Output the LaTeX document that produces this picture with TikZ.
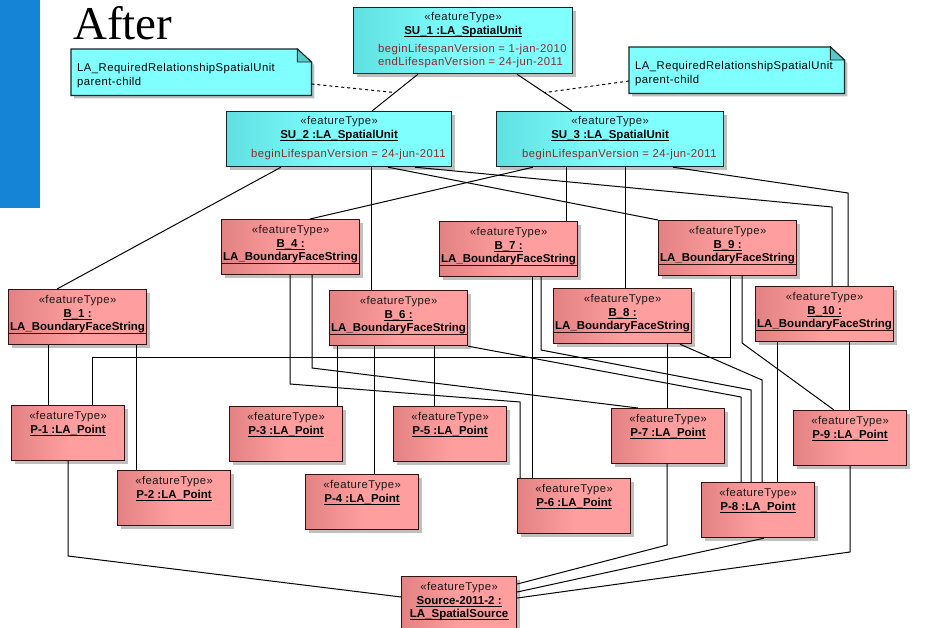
\documentclass[tikz,border=0pt]{standalone}
\usepackage{fontspec}
\setmainfont{Liberation Sans}
\newfontfamily\regf[LetterSpace=4]{Liberation Sans}
\newfontfamily\lsans{Liberation Sans}
\newfontfamily\serifbig{Liberation Serif}
\usetikzlibrary{shadows}

\definecolor{barBlue}{RGB}{21,132,214}
\definecolor{pinkD}{RGB}{226,130,130}
\definecolor{pinkL}{RGB}{255,158,158}
\definecolor{pinkEdge}{RGB}{50,18,18}
\definecolor{cyanD}{RGB}{96,224,224}
\definecolor{cyanL}{RGB}{128,255,255}
\definecolor{cyanEdge}{RGB}{20,40,40}
\definecolor{foldCyan}{RGB}{88,200,200}
\definecolor{attrRed}{RGB}{140,44,44}

\tikzset{
  link/.style={draw=black, line width=1pt},
  notelink/.style={draw=black, line width=1pt, dash pattern=on 3pt off 3pt},
  boxbase/.style={rectangle, anchor=north west, inner sep=0pt, line width=1.2pt,
    drop shadow={shadow xshift=3pt, shadow yshift=-3pt, fill=black!45, opacity=0.55}},
  pinkbox/.style={boxbase, draw=pinkEdge, left color=pinkD, right color=pinkL, middle color=pinkL},
  cyanbox/.style={boxbase, draw=cyanEdge, left color=cyanD, right color=cyanL, middle color=cyanL},
  stereo/.style={font=\regf\fontsize{11.3}{13}\selectfont, anchor=base, inner sep=0pt, text=black!90},
  idtext/.style={font=\lsans\bfseries\fontsize{11.5}{13}\selectfont, anchor=base, inner sep=0pt},
  attr/.style={font=\regf\fontsize{11.3}{13}\selectfont, anchor=base west, inner sep=0pt, text=attrRed},
  notetxt/.style={font=\regf\fontsize{11.3}{13}\selectfont, anchor=base west, inner sep=0pt},
  uline/.style={draw=black, line width=1pt},
  cline/.style={draw=pinkEdge, line width=1.1pt},
  notebody/.style={draw=cyanEdge, line width=1.2pt, fill=cyanL},
  notefold/.style={draw=cyanEdge, line width=0.9pt, fill=foldCyan},
  noteshadow/.style={fill=black!45, opacity=0.55},
  titletext/.style={font=\serifbig\fontsize{47}{47}\selectfont, anchor=base west, inner sep=0pt},
}

% underline below a text node
\newcommand\undernode[1]{\draw[uline] ([yshift=-2pt]#1.base west) -- ([yshift=-2pt]#1.base east);}

% UML note with folded corner: name, x, y, width
\newcommand\notebox[4]{%
  \node[rectangle, anchor=north west, inner sep=0pt, minimum width=#4pt, minimum height=46pt] (#1) at (#2,#3) {};
  \fill[noteshadow] ([xshift=3pt,yshift=-3pt]#1.north west) -- ([xshift=-11pt,yshift=-3pt]#1.north east)
    -- ([xshift=3pt,yshift=-16pt]#1.north east) -- ([xshift=3pt,yshift=-3pt]#1.south east)
    -- ([xshift=3pt,yshift=-3pt]#1.south west) -- cycle;
  \draw[notebody] (#1.north west) -- ([xshift=-14pt]#1.north east) -- ([yshift=-13pt]#1.north east)
    -- (#1.south east) -- (#1.south west) -- cycle;
  \filldraw[notefold] ([xshift=-14pt]#1.north east) -- ([yshift=-13pt]#1.north east)
    -- ([xshift=-14pt,yshift=-13pt]#1.north east) -- cycle;
  \node[notetxt] (#1-a) at ([shift={(6pt,-22.5pt)}]#1.north west) {LA\_RequiredRelationshipSpatialUnit};
  \node[notetxt] (#1-b) at ([shift={(6pt,-36.5pt)}]#1.north west) {parent-child};
}

% boundary face string object: name, x, y, id
\newcommand\bfsbox[4]{%
  \node[pinkbox, minimum width=138pt, minimum height=55pt] (#1) at (#2,#3) {};
  \node[stereo] (#1-s) at ([yshift=-14pt]#1.north) {«featureType»};
  \node[idtext] (#1-n) at ([yshift=-28.5pt]#1.north) {#4 :};
  \undernode{#1-n}
  \node[idtext] (#1-c) at ([yshift=-41pt]#1.north) {LA\_BoundaryFaceString};
  \draw[cline] ([yshift=-44.5pt]#1.north west) -- ([yshift=-44.5pt]#1.north east);
}

% point object: name, x, y, id
\newcommand\ptbox[4]{%
  \node[pinkbox, minimum width=113pt, minimum height=55pt] (#1) at (#2,#3) {};
  \node[stereo] (#1-s) at ([yshift=-14pt]#1.north) {«featureType»};
  \node[idtext] (#1-n) at ([yshift=-28pt]#1.north) {#4 :LA\_Point};
  \undernode{#1-n}
}

\begin{document}
\begin{tikzpicture}[x=1pt,y=-1pt]
\useasboundingbox (0,0) rectangle (936,627);
\clip (0,0) rectangle (936,627);
\fill[white] (0,0) rectangle (936,627);
\fill[barBlue] (0,0) rectangle (40,208);
\node[titletext] (title) at (73,39) {After};

% notes
\notebox{note1}{71}{49}{240}
\notebox{note2}{629}{47}{215}

% spatial units
\node[cyanbox, minimum width=219pt, minimum height=66pt] (SU1) at (353,7) {};
\node[stereo] (SU1-s) at ([yshift=-13.5pt]SU1.north) {«featureType»};
\node[idtext] (SU1-n) at ([yshift=-27pt]SU1.north) {SU\_1 :LA\_SpatialUnit};
\undernode{SU1-n}
\node[attr] (SU1-a) at ([shift={(25pt,-45.5pt)}]SU1.north west) {beginLifespanVersion = 1-jan-2010};
\node[attr] (SU1-b) at ([shift={(25pt,-58.5pt)}]SU1.north west) {endLifespanVersion = 24-jun-2011};

\node[cyanbox, minimum width=225pt, minimum height=55pt] (SU2) at (226,111) {};
\node[stereo] (SU2-s) at ([yshift=-13.5pt]SU2.north) {«featureType»};
\node[idtext] (SU2-n) at ([yshift=-27.5pt]SU2.north) {SU\_2 :LA\_SpatialUnit};
\undernode{SU2-n}
\node[attr] (SU2-a) at ([shift={(25pt,-46pt)}]SU2.north west) {beginLifespanVersion = 24-jun-2011};

\node[cyanbox, minimum width=227pt, minimum height=55pt] (SU3) at (496,111) {};
\node[stereo] (SU3-s) at ([yshift=-13.5pt]SU3.north) {«featureType»};
\node[idtext] (SU3-n) at ([yshift=-27.5pt]SU3.north) {SU\_3 :LA\_SpatialUnit};
\undernode{SU3-n}
\node[attr] (SU3-a) at ([shift={(26pt,-46pt)}]SU3.north west) {beginLifespanVersion = 24-jun-2011};

% boundary face strings
\bfsbox{B1}{8}{289}{B\_1}
\bfsbox{B4}{221}{219}{B\_4}
\bfsbox{B6}{329}{290}{B\_6}
\bfsbox{B7}{439}{221}{B\_7}
\bfsbox{B8}{553}{288}{B\_8}
\bfsbox{B9}{658}{220}{B\_9}
\bfsbox{B10}{755}{286}{B\_10}

% points
\ptbox{P1}{11}{405}{P-1}
\ptbox{P2}{117}{470}{P-2}
\ptbox{P3}{229}{406}{P-3}
\ptbox{P4}{305}{474}{P-4}
\ptbox{P5}{393}{406}{P-5}
\ptbox{P6}{517}{478}{P-6}
\ptbox{P7}{611}{408}{P-7}
\ptbox{P8}{701}{482}{P-8}
\ptbox{P9}{793}{410}{P-9}

% spatial source
\node[pinkbox, minimum width=115pt, minimum height=60pt] (Src) at (401,576) {};
\node[stereo] (Src-s) at ([yshift=-14.5pt]Src.north) {«featureType»};
\node[idtext] (Src-n) at ([yshift=-28pt]Src.north) {Source-2011-2 :};
\undernode{Src-n}
\node[idtext] (Src-c) at ([yshift=-41pt]Src.north) {LA\_SpatialSource};
\undernode{Src-c}

% parent-child links
\draw[link] (SU1.south -| 418,0) -- coordinate[midway] (m1) (SU2.north -| 372,0);
\draw[link] (SU1.south -| 517,0) -- coordinate[midway] (m2) (SU3.north -| 572,0);
\draw[notelink] (note1.east |- 0,84) -- (m1);
\draw[notelink] (note2.west |- 0,81) -- (m2);

% spatial units to boundary face strings
\draw[link] (SU2.south -| 281,0) -- (B1.north -| 57,0);
\draw[link] (SU2.south -| 371,0) -- (B6.north -| 371,0);
\draw[link] (SU2.south -| 388,0) -- (B9.north west);
\draw[link] (SU2.south -| 415,0) -- (832,207) -- (B10.north -| 832,0);
\draw[link] (SU3.south -| 533,0) -- (B4.north -| 310,0);
\draw[link] (SU3.south -| 566,0) -- (B7.north -| 566,0);
\draw[link] (SU3.south -| 625,0) -- (B8.north -| 625,0);
\draw[link] (SU3.south -| 673,0) -- (848,193) -- (B10.north -| 848,0);

% boundary face strings to points
\draw[link] (B1.south -| 48,0) -- (P1.north -| 48,0);
\draw[link] (B1.south -| 136,0) -- (P2.north -| 136,0);
\draw[link] (B9.south -| 730,0) -- (730,357) -- (92,357) -- (P1.north -| 92,0);
\draw[link] (B9.south -| 742,0) -- (742,343) -- (P9.north -| 834,0);
\draw[link] (B4.south -| 290,0) -- (290,384) -- (520,402) -- (P6.north -| 520,0);
\draw[link] (B4.south -| 312,0) -- (312,368) -- (P7.north -| 638,0);
\draw[link] (B6.south -| 337,0) -- (P3.north -| 337,0);
\draw[link] (B6.south -| 374,0) -- (P4.north -| 374,0);
\draw[link] (B6.south -| 434,0) -- (P5.north -| 434,0);
\draw[link] (B6.south east) -- (741,397) -- (P8.north -| 741,0);
\draw[link] (B7.south -| 532,0) -- (P6.north -| 532,0);
\draw[link] (B7.south -| 541,0) -- (541,350) -- (751,390) -- (P8.north -| 751,0);
\draw[link] (B8.south -| 667,0) -- (P7.north -| 667,0);
\draw[link] (B8.south -| 680,0) -- (762,380) -- (P8.north -| 762,0);
\draw[link] (B10.south -| 777,0) -- (P8.north -| 777,0);
\draw[link] (B10.south -| 849,0) -- (P9.north -| 849,0);

% points to source
\draw[link] (P1.south -| 68,0) -- (68,556) -- (Src.west |- 0,597);
\draw[link] (P7.south -| 667,0) -- (667,545) -- (Src.east |- 0,584);
\draw[link] (P8.south -| 764,0) -- (Src.east |- 0,592);
\draw[link] (P9.south -| 850,0) -- (850,552) -- (Src.east |- 0,598);
\end{tikzpicture}
\end{document}
